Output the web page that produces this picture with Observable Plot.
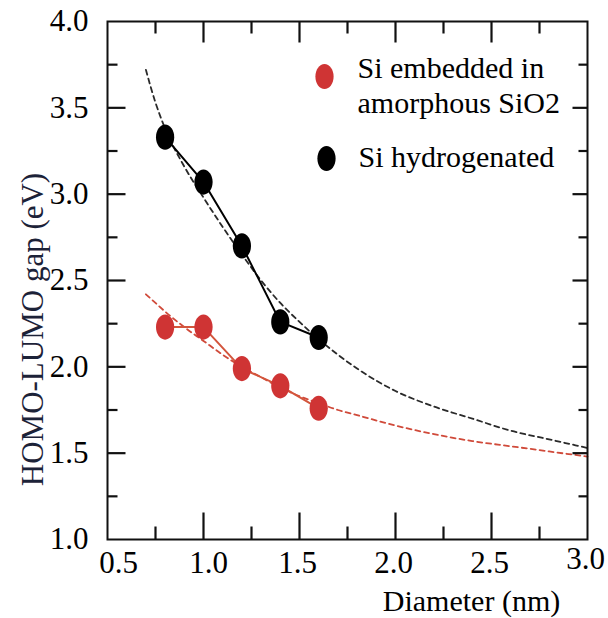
<!DOCTYPE html>
<html>
<head>
<meta charset="utf-8">
<script src="https://cdn.jsdelivr.net/npm/d3@7"></script>
<script src="https://cdn.jsdelivr.net/npm/@observablehq/plot@0.6"></script>
<style>
  html, body { margin: 0; padding: 0; background: #fff; }
  #chart svg { display: block; }
  #chart svg, #chart svg text { font-family: "Liberation Serif", "Times New Roman", serif !important; }
</style>
</head>
<body>
<div id="chart"></div>
<script>
// ---- data ----
const diameters = [0.8, 1.0, 1.2, 1.4, 1.6];
const gapSiO2 = [2.23, 2.23, 1.99, 1.89, 1.76];
const gapHydro = [3.33, 3.07, 2.70, 2.26, 2.17];

const fitX     = [0.70, 0.75, 0.80, 0.90, 1.00, 1.10, 1.20, 1.30, 1.40, 1.50, 1.60, 1.70, 1.80, 2.00, 2.20, 2.40, 2.60, 2.80, 3.00];
const fitHydro = [3.72, 3.53, 3.38, 3.16, 2.98, 2.81, 2.65, 2.50, 2.37, 2.26, 2.16, 2.07, 1.99, 1.86, 1.77, 1.70, 1.63, 1.58, 1.53];
const fitSiO2  = [2.42, 2.37, 2.32, 2.23, 2.15, 2.07, 2.00, 1.94, 1.88, 1.83, 1.79, 1.75, 1.72, 1.66, 1.61, 1.57, 1.54, 1.51, 1.48];

const xLabelTicks = [1.5, 2.0, 2.5];
const xFirstLabel = [0.5];
const xSecondLabel = [1.0];
const xLastLabel = [3.0];
const xMajorTicks = [1.0, 1.5, 2.0, 2.5];
const xMinorTicks = [0.75, 1.25, 1.75, 2.25, 2.75];
const yLabelTicks = [1.0, 1.5, 2.0, 2.5, 3.0, 3.5, 4.0];
const yMajorTicks = [1.5, 2.0, 2.5, 3.0, 3.5];
const yMinorTicks = [1.25, 1.75, 2.25, 2.75, 3.25, 3.75];

const seriesNames = ["Si embedded in\namorphous SiO2", "Si hydrogenated"];
const xTitle = "Diameter (nm)";
const yTitle = "HOMO-LUMO gap (eV)";

const RED = "#cf3434";
const RED_LINE = "#d3553c";
const BLACK = "#000000";
const AXIS = "#111111";

// ---- layout ----
const W = 608, H = 618;
const ML = 107, MR = 21, MT = 21, MB = 79;
const PW = W - ML - MR, PH = H - MT - MB;
const X0 = 0.5, X1 = 3.0, Y0 = 1.0, Y1 = 4.0;
const pxX = (X1 - X0) / PW;   // data units per pixel (x)
const pxY = (Y1 - Y0) / PH;   // data units per pixel (y)

// ---- tables ----
const points = diameters.flatMap((d, i) => [
  {d, gap: gapSiO2[i], s: "sio2"},
  {d, gap: gapHydro[i], s: "h"}
]);
const fits = fitX.flatMap((d, i) => [
  {d, gap: fitSiO2[i], s: "sio2"},
  {d, gap: fitHydro[i], s: "h"}
]);

// inward tick segments on all four sides (lengths in pixels, converted via scale span)
const tickSegs = [
  ...xMajorTicks.map(v => ({x1: v, x2: v, y1: Y0, y2: Y0 + 27 * pxY})),
  ...xMinorTicks.map(v => ({x1: v, x2: v, y1: Y0, y2: Y0 + 13 * pxY})),
  ...xMajorTicks.map(v => ({x1: v, x2: v, y1: Y1, y2: Y1 - 21 * pxY})),
  ...xMinorTicks.map(v => ({x1: v, x2: v, y1: Y1, y2: Y1 - 12 * pxY})),
  ...yMajorTicks.map(v => ({x1: X0, x2: X0 + 18 * pxX, y1: v, y2: v})),
  ...yMinorTicks.map(v => ({x1: X0, x2: X0 + 10 * pxX, y1: v, y2: v})),
  ...yMajorTicks.map(v => ({x1: X1, x2: X1 - 15 * pxX, y1: v, y2: v})),
  ...yMinorTicks.map(v => ({x1: X1, x2: X1 - 9 * pxX, y1: v, y2: v}))
];

// elliptical marker (slightly taller than wide)
const ellipse = {
  draw(ctx, size) {
    const r = Math.sqrt(size / Math.PI);
    const a = r * 0.76, b = r * 1.05, k = 0.5523;
    ctx.moveTo(a, 0);
    ctx.bezierCurveTo(a, b * k, a * k, b, 0, b);
    ctx.bezierCurveTo(-a * k, b, -a, b * k, -a, 0);
    ctx.bezierCurveTo(-a, -b * k, -a * k, -b, 0, -b);
    ctx.bezierCurveTo(a * k, -b, a, -b * k, a, 0);
    ctx.closePath();
  }
};

const FONT = "'Liberation Serif', 'Times New Roman', serif";
const TICK_FS = 31;
const fmt = d3.format(".1f");

function xLab(ticks, extra) {
  return Plot.axisX(ticks, Object.assign({anchor: "bottom", tickSize: 0, tickPadding: 11, tickFormat: fmt, label: null, fontSize: TICK_FS, fontFamily: FONT}, extra));
}

const chart = Plot.plot({
  width: W,
  height: H,
  marginLeft: ML,
  marginRight: MR,
  marginTop: MT,
  marginBottom: MB,
  style: {fontFamily: FONT, fontSize: "31px", color: "#000", background: "#fff"},
  x: {domain: [X0, X1]},
  y: {domain: [Y0, Y1]},
  marks: [
    // fit curves (dashed)
    Plot.line(fits.filter(d => d.s === "h"), {x: "d", y: "gap", stroke: "#2a2a2a", strokeWidth: 1.8, strokeDasharray: "5,4", curve: "monotone-x"}),
    Plot.line(fits.filter(d => d.s === "sio2"), {x: "d", y: "gap", stroke: "#d04a3a", strokeWidth: 1.8, strokeDasharray: "5,4", curve: "monotone-x"}),
    // connecting lines (solid)
    Plot.line(points.filter(d => d.s === "h"), {x: "d", y: "gap", stroke: BLACK, strokeWidth: 2}),
    Plot.line(points.filter(d => d.s === "sio2"), {x: "d", y: "gap", stroke: RED_LINE, strokeWidth: 2}),
    // markers
    Plot.dot(points.filter(d => d.s === "h"), {x: "d", y: "gap", r: 12, symbol: ellipse, fill: BLACK, stroke: "none"}),
    Plot.dot(points.filter(d => d.s === "sio2"), {x: "d", y: "gap", r: 12, symbol: ellipse, fill: RED, stroke: "none"}),

    // frame
    Plot.frame({stroke: AXIS, strokeWidth: 2}),

    // inward ticks on all four sides
    Plot.link(tickSegs, {x1: "x1", y1: "y1", x2: "x2", y2: "y2", stroke: AXIS, strokeWidth: 2.2}),

    // x axis labels
    xLab(xFirstLabel, {dx: 11}),
    xLab(xSecondLabel, {dx: 5}),
    xLab(xLabelTicks, {dx: -2}),
    xLab(xLastLabel, {dx: -2, dy: -4}),

    // y axis labels
    Plot.axisY(yLabelTicks, {anchor: "left", tickSize: 0, tickPadding: 19, tickFormat: fmt, label: null, fontSize: TICK_FS, fontFamily: FONT}),

    // axis titles
    Plot.text([xTitle], {frameAnchor: "bottom", text: d => d, dx: 124, dy: 71, lineAnchor: "bottom", textAnchor: "middle", fontSize: 30, fontFamily: FONT, fill: "#000"}),
    Plot.text([yTitle], {frameAnchor: "left", text: d => d, rotate: -90, dx: -74, dy: 49, lineAnchor: "middle", textAnchor: "middle", fontSize: 31, fontFamily: FONT, fill: "#1c2238"}),

    // legend
    Plot.dot([seriesNames[0]], {frameAnchor: "top-left", dx: 217, dy: 55, r: 12, symbol: ellipse, fill: RED}),
    Plot.dot([seriesNames[1]], {frameAnchor: "top-left", dx: 219, dy: 137, r: 12, symbol: ellipse, fill: BLACK}),
    Plot.text([seriesNames[0]], {frameAnchor: "top-left", text: d => d, dx: 250, dy: 31, lineAnchor: "top", textAnchor: "start", lineHeight: 1.18, fontSize: 30, fontFamily: FONT, fill: "#000"}),
    Plot.text([seriesNames[1]], {frameAnchor: "top-left", text: d => d, dx: 251, dy: 145, lineAnchor: "bottom", textAnchor: "start", fontSize: 30, fontFamily: FONT, fill: "#000"})
  ]
});

document.getElementById("chart").appendChild(chart);
</script>
</body>
</html>
